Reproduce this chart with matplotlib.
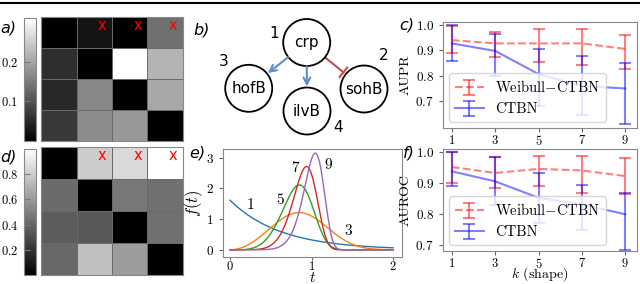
import numpy as np
import matplotlib
matplotlib.use('Agg')
import matplotlib.pyplot as plt
from matplotlib.patches import Circle
from matplotlib.lines import Line2D

plt.rcParams['font.family'] = ['cmr10', 'DejaVu Sans']
plt.rcParams['mathtext.fontset'] = 'cm'
plt.rcParams['axes.formatter.use_mathtext'] = True
plt.rcParams['axes.unicode_minus'] = False

W, H = 640, 284

# ---- data ----
# a) / d) interaction matrices
aupr_mat = [[0.0, 0.025, 0.0, 0.136],
            [0.056, 0.0, 0.31, 0.218],
            [0.049, 0.165, 0.0, 0.204],
            [0.068, 0.17, 0.185, 0.0]]
auroc_mat = [[0.0, 0.8, 0.85, 1.0],
             [0.42, 0.0, 0.47, 0.44],
             [0.36, 0.35, 0.0, 0.44],
             [0.41, 0.75, 0.61, 0.0]]
marked_cells = [(0, 1), (0, 2), (0, 3)]

# b) network
genes = ['crp', 'hofB', 'ilvB', 'sohB']
gene_ids = ['1', '3', '4', '2']
edges = [('crp', 'hofB', 'act'), ('crp', 'ilvB', 'act'), ('crp', 'sohB', 'inh')]

# e) weibull densities
shapes = [1, 3, 5, 7, 9]
scales = [0.62, 0.97, 0.89, 0.96, 1.06]
t_ticks = [0, 1, 2]

# c) / f) scores vs shape
k_vals = [1, 3, 5, 7, 9]
aupr_w = [0.941, 0.928, 0.928, 0.928, 0.906]
aupr_w_lo = [0.888, 0.875, 0.853, 0.842, 0.826]
aupr_w_hi = [0.997, 0.972, 0.984, 0.985, 0.961]
aupr_c = [0.928, 0.898, 0.806, 0.759, 0.749]
aupr_c_lo = [0.859, 0.798, 0.678, 0.645, 0.607]
aupr_c_hi = [1.0, 0.964, 0.906, 0.879, 0.851]

auroc_w = [0.952, 0.933, 0.946, 0.941, 0.923]
auroc_w_lo = [0.9, 0.884, 0.891, 0.868, 0.866]
auroc_w_hi = [0.999, 0.984, 0.987, 0.987, 0.981]
auroc_c = [0.938, 0.906, 0.853, 0.832, 0.80]
auroc_c_lo = [0.89, 0.829, 0.773, 0.748, 0.686]
auroc_c_hi = [1.0, 0.984, 0.933, 0.893, 0.868]


def px_axes(fig, x0, y0, x1, y1):
    return fig.add_axes([x0 / W, 1 - y1 / H, (x1 - x0) / W, (y1 - y0) / H])


fig = plt.figure(figsize=(W / 100, H / 100), dpi=100)
fig.add_artist(Line2D([0, 1], [1 - 3 / H, 1 - 3 / H], transform=fig.transFigure, color='k', lw=1.5))


def heat(ax, cax, mat, vmax, ticks):
    m = ax.pcolormesh(np.array(mat), cmap='gray', vmin=0, vmax=vmax, edgecolors='#6a6a6a', linewidth=0.5)
    ax.set_xlim(0, 4)
    ax.set_ylim(4, 0)
    ax.set_xticks([])
    ax.set_yticks([])
    for s in ax.spines.values():
        s.set_color('#888888')
    for r, c in marked_cells:
        ax.text(c + 0.72, r + 0.27, 'x', color='red', fontsize=10.5, ha='center', va='center',
                family='DejaVu Sans')
    cb = fig.colorbar(m, cax=cax)
    cb.outline.set_edgecolor('#888888')
    cb.set_ticks(ticks)
    cax.yaxis.set_ticks_position('left')
    cax.yaxis.set_label_position('left')
    cax.tick_params(direction='in', length=4, color='#777777', labelsize=9, pad=4)


heat(px_axes(fig, 41, 17, 183, 141), px_axes(fig, 24, 18, 36, 141), aupr_mat, 0.31, [0.1, 0.2])
heat(px_axes(fig, 41, 147, 183, 275), px_axes(fig, 24, 149, 36, 275), auroc_mat, 1.0, [0.2, 0.4, 0.6, 0.8])

# b) network
axb = px_axes(fig, 200, 0, 400, 142)
axb.set_xlim(200, 400)
axb.set_ylim(142, 0)
axb.axis('off')
pos = {'crp': (306.7, 42.5), 'hofB': (248.7, 88.3), 'ilvB': (307, 111), 'sohB': (364, 89)}
id_pos = {'crp': (274, 34), 'hofB': (224, 62), 'ilvB': (338, 127), 'sohB': (384, 56)}
r = 23.5
for g, gid in zip(genes, gene_ids):
    axb.add_patch(Circle(pos[g], r, fc='white', ec='black', lw=1.3, zorder=3))
    axb.text(*pos[g], g, ha='center', va='center', fontsize=11, family='DejaVu Sans', zorder=4)
    axb.text(*id_pos[g], gid, ha='center', va='center', fontsize=11, family='DejaVu Sans')
for a, b, kind in edges:
    p0 = np.array(pos[a])
    p1 = np.array(pos[b])
    u = (p1 - p0) / np.linalg.norm(p1 - p0)
    s = p0 + r * u
    if kind == 'act':
        e = p1 - (r + 1) * u
        axb.annotate('', xy=e, xytext=s,
                     arrowprops=dict(arrowstyle='->', color='#5b8fc9', lw=1.5, mutation_scale=12,
                                     shrinkA=0, shrinkB=0))
    else:
        e = p1 - (r + 3) * u
        axb.plot([s[0], e[0]], [s[1], e[1]], color='#c0504d', lw=1.5)
        n = np.array([-u[1], u[0]])
        axb.plot([e[0] - 6 * n[0], e[0] + 6 * n[0]], [e[1] - 6 * n[1], e[1] + 6 * n[1]], color='#c0504d', lw=1.5)

# e) densities
axe = px_axes(fig, 223, 149, 402, 257)
t = np.linspace(0, 2, 400)
lab_pos = [(0.25, 1.45), (1.45, 0.6), (0.62, 1.6), (0.8, 2.65), (1.21, 2.75)]
for k, lam, lp in zip(shapes, scales, lab_pos):
    f = (k / lam) * (t / lam) ** (k - 1) * np.exp(-(t / lam) ** k)
    axe.plot(t, f, lw=1)
    axe.text(lp[0], lp[1], str(k), fontsize=11, ha='center', va='center')
axe.set_xlim(-0.086, 2.11)
axe.set_ylim(-0.235, 3.28)
axe.set_xticks(t_ticks)
axe.set_xticklabels(['$%d$' % v for v in t_ticks])
axe.set_yticks([0, 1, 2, 3])
axe.set_xlabel('$t$', fontsize=11, va='center')
axe.xaxis.set_label_coords(0.5, -(278 - 257) / 108)
axe.set_ylabel('$f(t)$', fontsize=12, labelpad=1)
axe.tick_params(labelsize=9.5, color='#666666', length=3)
axe.tick_params(axis='x', labelsize=9, length=2.5, pad=0)
for s in axe.spines.values():
    s.set_color('#888888')


def score_panel(ax, w, wlo, whi, c, clo, chi, ylabel, ylim):
    w, wlo, whi = np.array(w), np.array(wlo), np.array(whi)
    c, clo, chi = np.array(c), np.array(clo), np.array(chi)
    ax.errorbar(k_vals, w, yerr=[w - wlo, whi - w], color='red', ls='--', lw=1.5, alpha=0.5,
                capsize=4, capthick=1.5, label=r'Weibull$-$CTBN')
    ax.errorbar(k_vals, c, yerr=[c - clo, chi - c], color='blue', ls='-', lw=1.5, alpha=0.5,
                capsize=4, capthick=1.5, label='CTBN')
    ax.set_xlim(0.59, 9.54)
    ax.set_ylim(*ylim)
    ax.set_xticks(k_vals)
    ax.set_xticklabels(['$%d$' % v for v in k_vals])
    ax.set_yticks([0.7, 0.8, 0.9, 1.0])
    ax.set_ylabel(ylabel, fontsize=10, labelpad=3)
    ax.tick_params(labelsize=9.5, color='#666666', length=3)
    ax.tick_params(axis='x', labelsize=9, pad=1)
    for s in ax.spines.values():
        s.set_color('#888888')
    ax.legend(loc='lower left', fontsize=10.5, handlelength=2.0, borderaxespad=0.4)


axc = px_axes(fig, 443, 22, 637, 128)
score_panel(axc, aupr_w, aupr_w_lo, aupr_w_hi, aupr_c, aupr_c_lo, aupr_c_hi, 'AUPR', (0.592, 1.013))
axf = px_axes(fig, 443, 149, 637, 251)
score_panel(axf, auroc_w, auroc_w_lo, auroc_w_hi, auroc_c, auroc_c_lo, auroc_c_hi, 'AUROC', (0.682, 1.01))
axf.set_xlabel('$k$ (shape)', fontsize=10, va='center')
axf.xaxis.set_label_coords(0.5, -(274 - 251) / 102)

# panel letters
for lab, x, y in [('a)', 0, 28), ('d)', 0, 157), ('b)', 193, 30), ('e)', 189, 153),
                  ('c)', 399, 25), ('f)', 403, 153)]:
    fig.text(x / W, 1 - y / H, lab, fontsize=11.5, style='italic', family='DejaVu Sans', va='center')

fig.savefig('out.png', dpi=100)
